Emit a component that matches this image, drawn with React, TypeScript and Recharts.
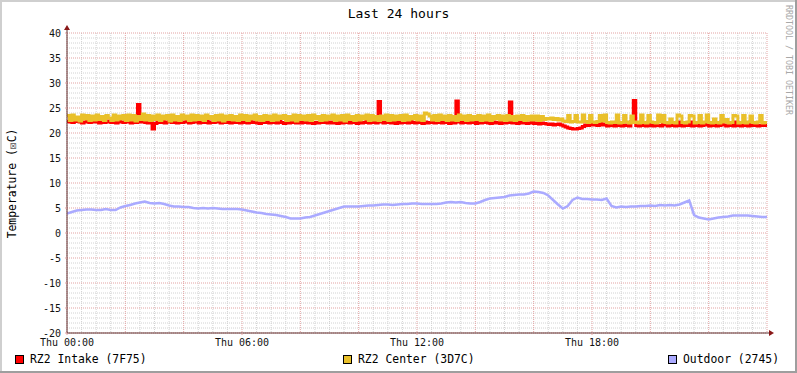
import React from 'react';
import { LineChart, Line, XAxis, YAxis, CartesianGrid, ReferenceDot } from 'recharts';

// 5-minute samples, Thu 00:00 .. Fri 00:00 (289 points), one row per hour
const intake = [
  22.3, 22.2, 22.1, 22.3, 22.4, 22.2, 22.0, 22.2, 22.3, 22.1, 22.2, 22.4,
  22.2, 22.0, 22.3, 22.1, 22.2, 22.4, 22.1, 22.2, 22.0, 22.3, 22.2, 22.1,
  22.3, 22.2, 22.0, 22.2, 22.1, 25.7, 22.2, 22.3, 22.1, 22.0, 22.2, 20.8,
  21.9, 22.2, 22.1, 22.4, 22.0, 22.2, 22.3, 22.1, 22.2, 22.0, 22.3, 22.1,
  22.2, 22.4, 22.0, 22.1, 22.3, 22.2, 22.0, 22.2, 22.1, 22.3, 22.0, 22.2,
  22.1, 22.3, 22.2, 22.0, 22.2, 22.1, 22.4, 22.0, 22.2, 22.1, 22.3, 22.0,
  22.2, 22.1, 22.0, 22.3, 22.1, 22.2, 22.0, 21.9, 22.2, 22.1, 22.3, 22.0,
  22.1, 22.2, 22.0, 22.3, 22.1, 21.9, 22.2, 22.0, 22.1, 22.3, 22.0, 22.2,
  22.0, 22.1, 22.3, 22.0, 22.2, 21.9, 22.1, 22.0, 22.2, 22.1, 22.3, 22.0,
  22.2, 22.0, 22.1, 21.9, 22.2, 22.0, 22.3, 22.1, 22.0, 22.2, 22.1, 21.9,
  22.2, 22.0, 22.1, 22.3, 22.0, 22.2, 22.1, 22.0, 26.3, 22.2, 22.0, 22.1,
  22.3, 22.0, 22.1, 21.9, 22.2, 22.0, 22.1, 22.2, 22.0, 22.3, 22.1, 22.0,
  22.2, 22.1, 21.9, 22.2, 22.0, 22.1, 22.3, 22.0, 22.1, 22.2, 22.0, 22.1,
  22.2, 21.9, 22.1, 22.0, 26.4, 22.2, 22.0, 22.1, 22.3, 22.0, 22.2, 22.1,
  21.9, 22.2, 22.0, 22.1, 22.3, 22.0, 21.9, 22.2, 22.0, 22.1, 21.9, 22.2,
  22.0, 22.1, 26.2, 22.0, 22.2, 21.9, 22.1, 22.0, 22.2, 21.9, 22.0, 22.1,
  21.9, 22.0, 21.8, 22.0, 21.9, 21.8, 21.7, 21.8, 21.6, 21.7, 21.8, 21.6,
  21.4, 21.2, 21.0, 20.9, 20.8, 20.8, 20.9, 21.0, 21.3, 21.6, 21.5, 21.7,
  21.6, 21.8, 21.5, 22.2, 21.6, 21.8, 21.4, 21.6, 21.5, 21.4, 22.2, 21.5,
  21.4, 21.6, 21.5, 21.4, 22.3, 26.5, 21.5, 21.4, 21.6, 21.5, 21.4, 22.2,
  21.5, 21.4, 21.6, 21.5, 21.4, 22.1, 21.6, 21.4, 21.5, 21.6, 21.4, 22.2,
  21.5, 21.4, 21.6, 21.5, 22.2, 21.4, 21.5, 21.6, 21.4, 21.5, 21.6, 22.1,
  21.4, 21.5, 21.6, 21.4, 21.5, 22.2, 21.6, 21.4, 21.5, 21.6, 21.4, 22.2,
  21.5, 21.4, 21.6, 21.5, 21.4, 22.2, 21.5, 21.6, 21.4, 21.5, 21.6, 21.5,
  21.6,
];

const center = [
  23.5, 22.5, 23.6, 22.6, 23.2, 22.4, 23.6, 22.8, 23.5, 22.5, 23.4, 22.6,
  23.6, 22.7, 23.3, 22.5, 23.5, 23.0, 22.5, 23.6, 22.6, 23.4, 22.8, 23.5,
  22.5, 23.6, 22.6, 23.5, 22.4, 23.3, 22.7, 23.8, 22.6, 23.5, 22.5, 23.4,
  22.7, 23.6, 22.5, 23.4, 22.8, 23.5, 22.4, 23.6, 22.6, 23.3, 22.5, 23.6,
  22.8, 23.4, 22.5, 23.6, 22.6, 23.5, 22.7, 23.4, 22.5, 23.6, 22.9, 23.3,
  22.5, 23.5, 22.6, 23.6, 22.4, 23.4, 22.7, 23.5, 22.6, 23.3, 22.5, 23.6,
  22.7, 23.5, 22.5, 23.4, 22.8, 23.6, 22.6, 23.3, 22.5, 23.5, 22.7, 23.4,
  22.5, 23.6, 22.6, 23.4, 22.9, 23.5, 22.5, 23.3, 22.6, 23.6, 22.4, 23.5,
  22.7, 23.4, 22.6, 23.5, 22.5, 23.6, 22.8, 23.3, 22.5, 23.5, 22.6, 23.4,
  22.8, 23.6, 22.5, 23.4, 22.6, 23.5, 22.4, 23.6, 22.7, 23.3, 22.5, 23.5,
  22.6, 23.4, 22.8, 23.6, 22.5, 23.5, 22.6, 23.3, 22.5, 23.4, 22.7, 23.6,
  22.5, 23.5, 22.6, 23.4, 22.7, 23.5, 22.5, 23.6, 22.6, 23.3, 22.8, 23.5,
  22.6, 23.4, 22.5, 24.0, 23.8, 23.4, 22.6, 23.5, 22.5, 23.6, 22.7, 23.4,
  22.5, 23.5, 22.6, 23.3, 22.5, 23.6, 22.7, 23.4, 22.5, 23.5, 22.6, 23.3,
  22.7, 23.5, 22.5, 23.4, 22.6, 23.6, 22.5, 23.3, 22.8, 23.5, 22.6, 23.4,
  22.5, 23.5, 22.6, 23.3, 22.5, 23.4, 22.7, 23.5, 22.5, 23.3, 22.6, 23.4,
  22.6, 23.4, 22.5, 23.3, 22.7, 22.9, 22.8, 23.0, 22.7, 22.9, 22.6, 22.8,
  22.4, 22.3, 23.5, 22.2, 22.3, 23.5, 22.2, 22.2, 23.6, 22.3, 22.1, 23.5,
  22.2, 22.1, 22.3, 23.5, 22.4, 23.6, 22.1, 22.0, 22.2, 22.1, 23.6, 22.0,
  22.1, 23.5, 22.2, 22.0, 23.4, 22.1, 22.2, 22.0, 23.6, 22.1, 22.0, 23.5,
  22.2, 22.1, 22.0, 23.6, 22.2, 23.5, 22.1, 22.0, 22.8, 22.1, 22.0, 23.6,
  23.4, 22.1, 22.0, 22.2, 23.5, 23.4, 22.0, 22.1, 23.5, 22.0, 22.2, 23.6,
  22.1, 22.0, 22.8, 22.1, 22.0, 23.5, 22.2, 22.7, 22.0, 22.1, 23.5, 23.4,
  22.0, 22.1, 23.5, 22.0, 22.2, 23.4, 22.1, 22.0, 22.2, 23.5, 22.0, 22.1,
  22.0,
];

// 10-minute samples (145 points)
const outdoor = [
  3.9, 4.2, 4.5, 4.6, 4.7, 4.7, 4.6, 4.6, 4.8, 4.6, 4.6, 5.1, 5.4, 5.6, 5.9, 6.1,
  6.3, 6.0, 5.9, 6.0, 5.8, 5.5, 5.3, 5.3, 5.2, 5.2, 5.0, 4.9, 5.0, 4.9, 5.0, 4.9,
  4.8, 4.8, 4.8, 4.8, 4.7, 4.5, 4.3, 4.1, 4.0, 3.8, 3.7, 3.6, 3.4, 3.2, 2.9, 2.9,
  2.9, 3.1, 3.2, 3.5, 3.8, 4.1, 4.4, 4.7, 5.0, 5.3, 5.3, 5.3, 5.3, 5.4, 5.5, 5.5,
  5.6, 5.7, 5.7, 5.6, 5.7, 5.8, 5.8, 5.9, 5.9, 5.8, 5.8, 5.8, 5.8, 5.9, 6.1, 6.2,
  6.1, 6.2, 6.0, 5.9, 5.9, 6.2, 6.6, 6.9, 7.0, 7.1, 7.2, 7.5, 7.6, 7.7, 7.7, 7.9,
  8.3, 8.2, 8.0, 7.5, 6.6, 5.7, 4.9, 5.4, 6.6, 7.1, 6.8, 6.8, 6.7, 6.7, 6.6, 6.9,
  5.4, 5.1, 5.3, 5.2, 5.3, 5.3, 5.4, 5.4, 5.5, 5.4, 5.6, 5.5, 5.6, 5.5, 5.7, 6.1,
  6.5, 3.6, 3.1, 2.9, 2.7, 2.9, 3.1, 3.2, 3.3, 3.5, 3.5, 3.5, 3.5, 3.4, 3.3, 3.2,
  3.2,
];

const xTicks = [0, 6, 12, 18];
const xTickLabels = ['Thu 00:00', 'Thu 06:00', 'Thu 12:00', 'Thu 18:00'];
const yTicks = [-20, -15, -10, -5, 0, 5, 10, 15, 20, 25, 30, 35, 40];

const seriesNames = ['RZ2 Intake (7F75)', 'RZ2 Center (3D7C)', 'Outdoor (2745)'];
const seriesColors = ['#FF0000', '#E9C02A', '#AAAAFF'];

const title = 'Last 24 hours';
const yLabel = 'Temperature (\u2612C)';
const watermark = 'RRDTOOL / TOBI OETIKER';

const data = intake.map((v, i) => ({
  t: i / 12,
  intake: v,
  center: center[i],
  outdoor: i % 2 === 0 ? outdoor[i / 2] : null,
}));

// grid positions
const majorH = yTicks;
const minorH: number[] = [];
for (let v = -20; v <= 40; v++) if (v % 5 !== 0) minorH.push(v);
const majorV: number[] = [];
const minorV: number[] = [];
for (let h = 0; h <= 24; h += 0.5) {
  if (h % 2 === 0) majorV.push(h);
  else minorV.push(h);
}

const FONT = '"DejaVu Sans Mono", monospace';
const MAJOR = '#e3a3a3';
const MINOR = '#d2d2d2';
const AXIS = '#5c3030';
const ARROW = '#8a1818';

const UpArrow = (props: any) => {
  const { cx, cy } = props;
  return (
    <g>
      <line x1={cx} y1={cy} x2={cx} y2={cy - 3} stroke={AXIS} strokeWidth={1} />
      <polygon points={`${cx},${cy - 8} ${cx - 3},${cy - 3} ${cx + 3},${cy - 3}`} fill={ARROW} />
    </g>
  );
};

const RightArrow = (props: any) => {
  const { cx, cy } = props;
  return (
    <g>
      <line x1={cx} y1={cy} x2={cx + 2} y2={cy} stroke={AXIS} strokeWidth={1} />
      <polygon points={`${cx + 7},${cy} ${cx + 2},${cy - 3} ${cx + 2},${cy + 3}`} fill={ARROW} />
    </g>
  );
};

const legendX = [15, 343, 668];

export default function App() {
  return (
    <div style={{ position: 'absolute', left: 0, top: 0, width: 797, height: 373, background: '#fff' }}>
      <LineChart
        width={797}
        height={373}
        data={data}
        margin={{ top: 33, right: 30, bottom: 20, left: 0 }}
      >
        <CartesianGrid
          horizontalValues={minorH}
          verticalValues={minorV}
          stroke={MINOR}
          strokeDasharray="1 1"
        />
        <CartesianGrid
          horizontalValues={majorH}
          verticalValues={majorV}
          stroke={MAJOR}
          strokeDasharray="1 1"
        />
        <XAxis
          dataKey="t"
          type="number"
          domain={[0, 24]}
          ticks={xTicks}
          tickFormatter={(v: number) => xTickLabels[xTicks.indexOf(v)]}
          height={20}
          tickSize={2}
          tickMargin={4}
          axisLine={{ stroke: AXIS }}
          tickLine={{ stroke: MAJOR }}
          tick={{ fontFamily: FONT, fontSize: 10, fill: '#111' }}
          interval={0}
          allowDataOverflow
        />
        <YAxis
          type="number"
          domain={[-20, 40]}
          ticks={yTicks}
          width={67}
          tickSize={2}
          tickMargin={4}
          axisLine={{ stroke: AXIS }}
          tickLine={{ stroke: MAJOR }}
          tick={{ fontFamily: FONT, fontSize: 10, fill: '#111' }}
          interval={0}
          allowDataOverflow
        />
        <Line
          dataKey="intake"
          type="stepAfter"
          stroke={seriesColors[0]}
          strokeWidth={3}
          dot={false}
          activeDot={false}
          isAnimationActive={false}
        />
        <Line
          dataKey="center"
          type="stepAfter"
          stroke={seriesColors[1]}
          strokeWidth={3}
          dot={false}
          activeDot={false}
          isAnimationActive={false}
        />
        <Line
          dataKey="outdoor"
          type="linear"
          stroke={seriesColors[2]}
          strokeWidth={2.5}
          dot={false}
          activeDot={false}
          connectNulls
          isAnimationActive={false}
        />
        <ReferenceDot x={0} y={40} ifOverflow="visible" shape={UpArrow} />
        <ReferenceDot x={24} y={-20} ifOverflow="visible" shape={RightArrow} />
      </LineChart>

      <svg
        width={797}
        height={373}
        style={{ position: 'absolute', left: 0, top: 0, pointerEvents: 'none' }}
      >
        {/* 3D frame */}
        <rect x={0} y={0} width={797} height={2} fill="#cfcfcf" />
        <rect x={0} y={0} width={2} height={373} fill="#cfcfcf" />
        <rect x={0} y={371} width={797} height={2} fill="#9e9e9e" />
        <rect x={795} y={0} width={2} height={373} fill="#9e9e9e" />

        <text x={398.5} y={18} textAnchor="middle" fontFamily={FONT} fontSize={13} fill="#000">
          {title}
        </text>

        <text
          transform="translate(15.5,183.5) rotate(-90)"
          textAnchor="middle"
          fontFamily={FONT}
          fontSize={11.4}
          fill="#000"
        >
          {yLabel}
        </text>

        <text
          transform="translate(786,5) rotate(90)"
          fontFamily={FONT}
          fontSize={8.3}
          fill="#a8a8a8"
        >
          {watermark}
        </text>

        {seriesNames.map((name, i) => (
          <g key={name}>
            <rect
              x={legendX[i] + 0.5}
              y={355.5}
              width={8}
              height={8}
              fill={seriesColors[i]}
              stroke="#000"
              strokeWidth={1}
            />
            <text x={legendX[i] + 15} y={363} fontFamily={FONT} fontSize={11.4} fill="#000">
              {name}
            </text>
          </g>
        ))}
      </svg>
    </div>
  );
}
